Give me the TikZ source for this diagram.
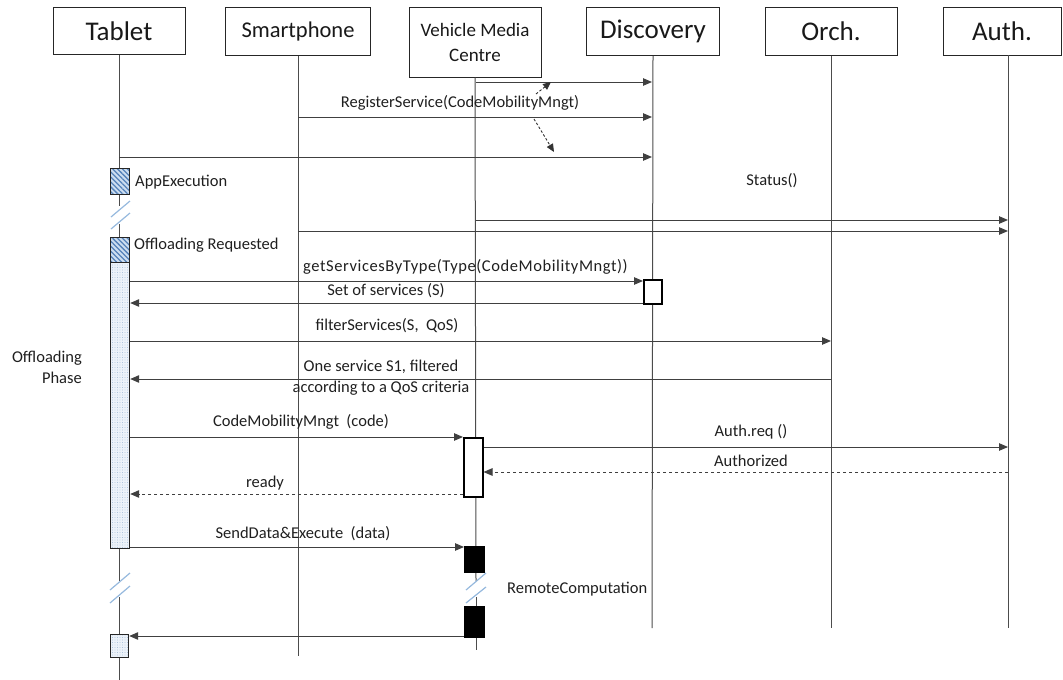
\documentclass[tikz,border=0pt]{standalone}
\usepackage{fontspec}
\setmainfont{Carlito}
\usetikzlibrary{arrows.meta,patterns.meta}
\definecolor{hatchbg}{RGB}{205,222,240}
\definecolor{hatchline}{RGB}{85,130,185}
\definecolor{dotbg}{RGB}{236,242,249}
\definecolor{dotcol}{RGB}{140,170,205}
\definecolor{breakcol}{RGB}{150,185,222}
\begin{document}
\begin{tikzpicture}[x=1pt,y=-1pt,
  head/.style={draw=black!85, line width=1pt, inner sep=0pt, fill=white, text=black!90},
  life/.style={draw=black!70, line width=1pt},
  msg/.style={draw=black!75, line width=1pt, -{Triangle[length=9pt,width=7.5pt]}},
  reply/.style={msg, dash pattern=on 3.5pt off 2.5pt},
  hint/.style={draw=black!80, line width=0.9pt, dash pattern=on 2.5pt off 2pt, -{Triangle[length=8pt,width=7pt]}},
  lbl/.style={font=\fontsize{16.5}{21}\selectfont, inner sep=0pt, text=black!88},
  brk/.style={draw=breakcol, line width=1.2pt},
  hatchbox/.style={draw=black!85, line width=1.2pt, inner sep=0pt, anchor=north west,
    preaction={fill=hatchbg}, pattern={Lines[angle=-45,distance=3.5pt,line width=1.3pt]}, pattern color=hatchline},
  dotbox/.style={draw=black!85, line width=1.2pt, inner sep=0pt, anchor=north west,
    preaction={fill=dotbg}, pattern={Dots[distance=2.5pt,radius=0.45pt]}, pattern color=dotcol},
  whitebox/.style={draw=black, line width=1.5pt, fill=white, inner sep=0pt, anchor=north west},
  blackbox/.style={draw=black, line width=1pt, fill=black, inner sep=0pt, anchor=north west}
]
\useasboundingbox (0,0) rectangle (1063,680);

% lifeline x positions
\coordinate (T) at (119,0);
\coordinate (S) at (298,0);
\coordinate (V) at (476,0);
\coordinate (D) at (652,0);
\coordinate (O) at (831,0);
\coordinate (A) at (1008,0);

% heads
\node[head, minimum width=132, minimum height=47, font=\fontsize{27}{30}\selectfont] (tab) at (119,31) {Tablet};
\node[head, minimum width=145, minimum height=48, font=\fontsize{22.5}{26}\selectfont] (sph) at (298,31.5) {Smartphone};
\node[head, minimum width=132, minimum height=70, align=center, font=\fontsize{19}{25}\selectfont] (vmc) at (475,42) {Vehicle Media\\Centre};
\node[head, minimum width=133, minimum height=48, font=\fontsize{27}{30}\selectfont] (dis) at (653,31.5) {Discovery};
\node[head, minimum width=132, minimum height=48, font=\fontsize{27}{30}\selectfont] (orc) at (831,31.5) {Orch.};
\node[head, minimum width=118, minimum height=48, font=\fontsize{27}{30}\selectfont] (aut) at (1002,31.5) {Auth.};

% lifelines
\draw[life] (tab.south) -- (T |- 0,206);
\draw[life] (T |- 0,224) -- (T |- 0,581);
\draw[life] (T |- 0,597) -- (T |- 0,680);
\draw[life] (sph.south) -- (S |- 0,656);
\draw[life] (vmc.south) -- (V |- 0,581);
\draw[life] (V |- 0,597) -- (V |- 0,650);
\draw[life] (dis.south) -- (D |- 0,628);
\draw[life] (orc.south) -- (O |- 0,628);
\draw[life] (A |- 0,55) -- (A |- 0,628);

% break marks
\draw[brk] (111,217) -- (130,201);
\draw[brk] (111,229) -- (130,213);
\draw[brk] (110,590) -- (130,573);
\draw[brk] (110,603) -- (130,586);
\draw[brk] (466,590) -- (486,573);
\draw[brk] (466,603) -- (486,587);

% activation boxes
\node[hatchbox, minimum width=19, minimum height=26] (appx) at (110,168) {};
\node[hatchbox, minimum width=19, minimum height=25] (offr) at (110,237) {};
\node[dotbox, minimum width=19, minimum height=286] (ophase) at (110,262) {};
\node[dotbox, minimum width=18, minimum height=23] (tend) at (110,634) {};
\node[whitebox, minimum width=18, minimum height=24] (dact) at (643,279) {};
\node[whitebox, minimum width=19, minimum height=59] (vact) at (463,437) {};
\node[blackbox, minimum width=20, minimum height=26] (rc1) at (464,546) {};
\node[blackbox, minimum width=20, minimum height=31] (rc2) at (464,606) {};

% registration messages
\draw[msg] (V |- 0,82) -- (D |- 0,82);
\draw[msg] (S |- 0,117) -- (D |- 0,117);
\draw[msg] (T |- 0,157) -- (D |- 0,157);
\node[lbl] (lreg) at (460,103) {RegisterService(CodeMobilityMngt)};
\coordinate (h1s) at (536,94);
\coordinate (h1e) at (551,82);
\coordinate (h2s) at (534,119);
\coordinate (h2e) at (554,152);
\draw[hint] (h1s) -- (h1e);
\draw[hint] (h2s) -- (h2e);

\node[lbl, anchor=west] (lappx) at (135,182) {AppExecution};
\node[lbl, anchor=west] (loffr) at (134,245) {Offloading Requested};

% status
\node[lbl] (lstat) at (772,181) {Status()};
\draw[msg] (V |- 0,220) -- (A |- 0,220);
\draw[msg] (S |- 0,231) -- (A |- 0,231);

% offloading phase
\draw[msg] (ophase.east |- 0,281) -- (dact.west |- 0,281);
\node[lbl, anchor=west] (lget) at (303,267) {\addfontfeature{LetterSpace=3.5}getServicesByType(Type(CodeMobilityMngt))};
\draw[msg] (dact.west |- 0,303) -- (ophase.east |- 0,303);
\node[lbl] (lset) at (386,291) {Set of services (S)};
\draw[msg] (ophase.east |- 0,341) -- (O |- 0,341);
\node[lbl] (lfil) at (387,326) {filterServices(S,~ QoS)};
\draw[msg] (O |- 0,379) -- (ophase.east |- 0,379);
\node[lbl, align=center] (lone) at (381,377.5) {One service S1, filtered\\according to a QoS criteria};
\node[lbl, align=right, anchor=east] (lphase) at (82,367.5) {Offloading\\Phase};

\draw[msg] (ophase.east |- 0,437) -- (vact.west |- 0,437);
\node[lbl] (lcode) at (301,422) {CodeMobilityMngt~ (code)};
\draw[msg] (vact.east |- 0,447) -- (A |- 0,447);
\node[lbl] (lauth) at (751,432) {Auth.req ()};
\draw[reply] (A |- 0,472) -- (vact.east |- 0,472);
\node[lbl] (lauthd) at (751,461) {Authorized};
\draw[reply] (vact.west |- 0,494) -- (ophase.east |- 0,494);
\node[lbl] (lready) at (265,483) {ready};

\draw[msg] (ophase.east |- 0,547) -- (rc1.west |- 0,547);
\node[lbl] (lsend) at (303,534) {SendData\&Execute~ (data)};
\node[lbl, anchor=west] (lrc) at (507,589) {RemoteComputation};
\draw[msg] (rc2.west |- 0,636) -- (tend.east |- 0,636);
\end{tikzpicture}
\end{document}
